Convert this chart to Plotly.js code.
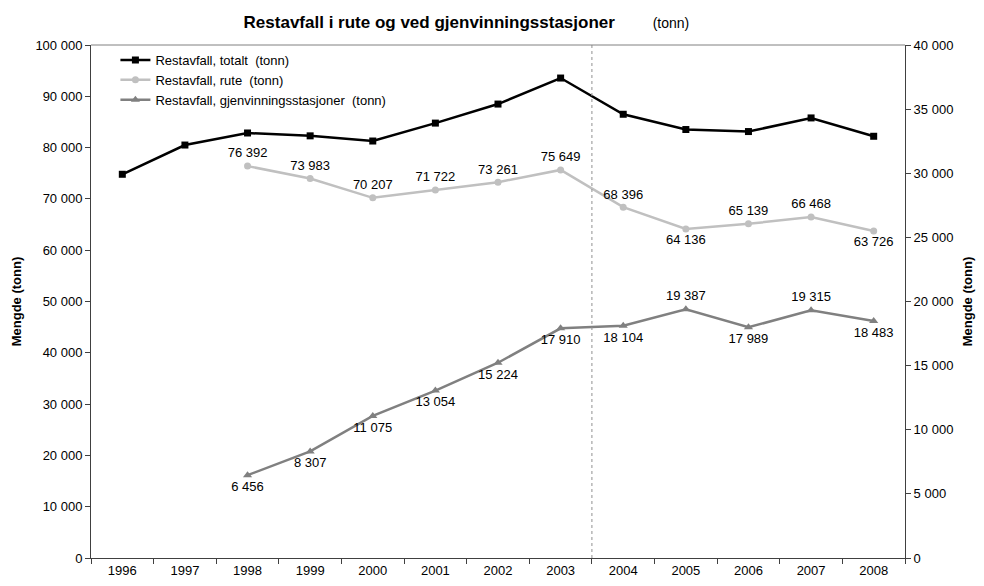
<!DOCTYPE html>
<html><head><meta charset="utf-8">
<script src="https://cdn.plot.ly/plotly-3.0.1.min.js"></script>
<style>body{margin:0;background:#fff}#c{width:984px;height:586px}</style>
</head><body><div id="c"></div>
<script>
const years = ['1996','1997','1998','1999','2000','2001','2002','2003','2004','2005','2006','2007','2008'];
const totalt = [74800, 80500, 82848, 82290, 81282, 84776, 88485, 93559, 86500, 83523, 83128, 85783, 82209];
const ruteYears = ['1998','1999','2000','2001','2002','2003','2004','2005','2006','2007','2008'];
const rute = [76392, 73983, 70207, 71722, 73261, 75649, 68396, 64136, 65139, 66468, 63726];
const gjenv = [6456, 8307, 11075, 13054, 15224, 17910, 18104, 19387, 17989, 19315, 18483];
const rutePos = ['top center','top center','top center','top center','top center','top center','top center','bottom center','top center','top center','bottom center'];
const gjenvPos = ['bottom center','bottom center','bottom center','bottom center','bottom center','bottom center','bottom center','top center','bottom center','top center','bottom center'];

const fmt = v => String(v).replace(/\B(?=(\d{3})+(?!\d))/g, ' ');
const F = 'Liberation Sans, Arial, sans-serif';

const traces = [
  {x: years, y: totalt, name: 'Restavfall, totalt  (tonn)', mode: 'lines+markers',
   line: {color: '#000000', width: 2.5}, marker: {symbol: 'square', size: 7, color: '#000000'}},
  {x: ruteYears, y: rute, name: 'Restavfall, rute  (tonn)', mode: 'lines+markers+text',
   text: rute.map(fmt), textposition: rutePos, textfont: {family: F, size: 13, color: '#000'},
   line: {color: '#c0c0c0', width: 2.5}, marker: {symbol: 'circle', size: 7, color: '#c0c0c0'}},
  {x: ruteYears, y: gjenv, name: 'Restavfall, gjenvinningsstasjoner  (tonn)', yaxis: 'y2', mode: 'lines+markers+text',
   text: gjenv.map(fmt), textposition: gjenvPos, textfont: {family: F, size: 13, color: '#000'},
   line: {color: '#808080', width: 2.5}, marker: {symbol: 'triangle-up', size: 8, color: '#808080'}}
];

const layout = {
  width: 984, height: 586,
  margin: {l: 91, r: 79, t: 45, b: 28},
  paper_bgcolor: '#fff', plot_bgcolor: '#fff',
  font: {family: F, size: 13, color: '#000'},
  separators: ', ',
  showlegend: true,
  legend: {x: 0.03, y: 1.0, xanchor: 'left', yanchor: 'top', bgcolor: 'rgba(0,0,0,0)',
           font: {family: F, size: 13}, tracegroupgap: 0, itemwidth: 30},
  title: {text: '<b>Restavfall i rute og ved gjenvinningsstasjoner</b>        <span style="font-size:14px">(tonn)</span>',
          x: 0.474, xanchor: 'center', y: 0.962, yanchor: 'middle', font: {family: F, size: 17}},
  xaxis: {type: 'category', range: [-0.5, 12.5], tickson: 'boundaries', ticks: 'outside', ticklen: 5, tickcolor: '#404040',
          showline: true, linecolor: '#404040', linewidth: 1, showgrid: false, zeroline: false,
          tickfont: {family: F, size: 13}, mirror: false},
  yaxis: {range: [0, 100000], dtick: 10000, tickformat: ',d', ticks: 'outside', ticklen: 5,
          tickcolor: '#404040', showline: true, linecolor: '#404040', linewidth: 1, showgrid: false,
          zeroline: false, tickfont: {family: F, size: 13},
          title: {text: '<b>Mengde (tonn)</b>', font: {family: F, size: 13}, standoff: 10}},
  yaxis2: {overlaying: 'y', side: 'right', range: [0, 40000], dtick: 5000, tickformat: ',d',
           ticks: 'outside', ticklen: 5, tickcolor: '#404040', showline: true, linecolor: '#404040',
           linewidth: 1, showgrid: false, zeroline: false, tickfont: {family: F, size: 13},
           title: {text: '<b>Mengde (tonn)</b>', font: {family: F, size: 13}, standoff: 10}},
  shapes: [
    {type: 'line', xref: 'x', yref: 'paper', x0: 7.5, x1: 7.5, y0: 0, y1: 1,
     line: {color: '#909090', width: 1, dash: 'dot'}},
    {type: 'line', xref: 'paper', yref: 'paper', x0: 0, x1: 1, y0: 1, y1: 1,
     line: {color: '#808080', width: 1}}
  ]
};

Plotly.newPlot('c', traces, layout, {staticPlot: true, displayModeBar: false});
</script></body></html>
